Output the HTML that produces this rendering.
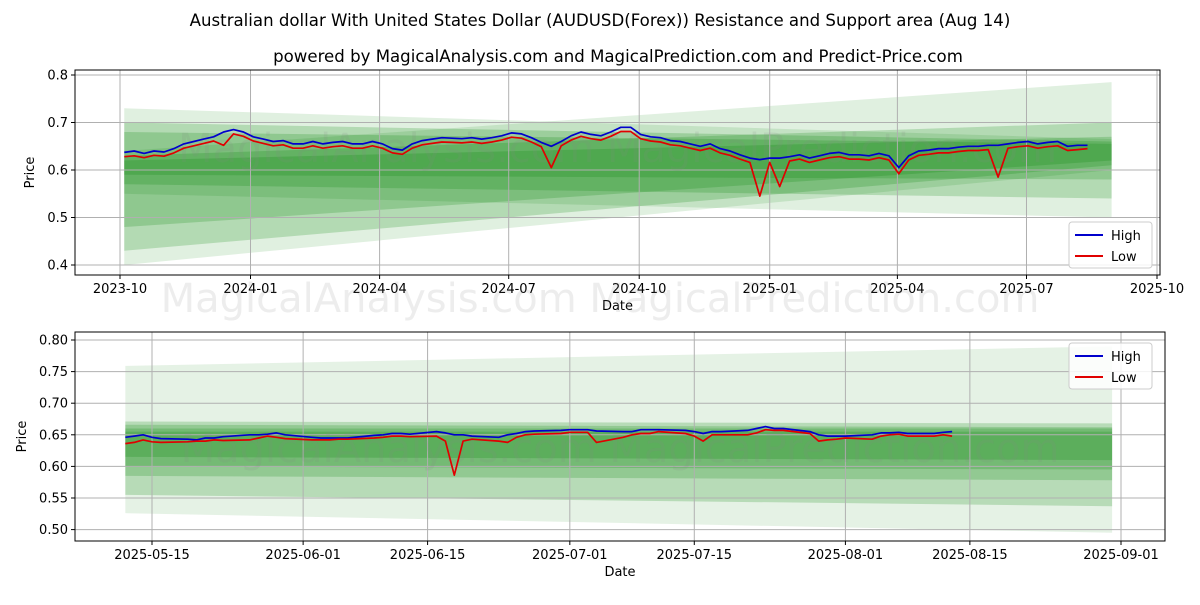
<!DOCTYPE html>
<html><head><meta charset="utf-8">
<style>
html,body{margin:0;padding:0;background:#fff;}
svg text{font-family:"DejaVu Sans","Liberation Sans",sans-serif;}
</style></head>
<body>
<svg id="chart" width="1200" height="600" viewBox="0 0 1200 600" xmlns="http://www.w3.org/2000/svg">
<text x="600" y="26" text-anchor="middle" font-size="16.6" fill="#000">Australian dollar With United States Dollar (AUDUSD(Forex)) Resistance and Support area (Aug 14)</text>
<text x="618" y="62" text-anchor="middle" font-size="16.6" fill="#000">powered by MagicalAnalysis.com and MagicalPrediction.com and Predict-Price.com</text>
<g id="top"></g>
<g id="bot"></g>
</svg>
<script>
// ---------- data: top chart ----------
const topStartDate = "2023-10-04"; // weekly samples
const topHigh = [.637,.640,.635,.640, .638,.645,.655,.660, .665,.670,.680,.685,
 .680,.670,.665,.660,.662, .655,.655,.660,.655, .658,.660,.655,.655,
 .660,.655,.645,.642,.655, .662,.665,.668,.667, .666,.668,.665,.668,
 .672,.678,.676,.668,.658, .650,.660,.672,.680, .675,.672,.680,.690,
 .690,.675,.670,.668,.662, .660,.655,.650,.655, .645,.640,.632,.625,
 .622,.625,.625,.628,.632, .625,.630,.635,.637, .632,.632,.630,.635,
 .630,.605,.630,.640,.642, .645,.645,.648,.650, .650,.652,.652,.655,
 .658,.660,.655,.658,.660, .650,.652,.652];
const topLow = [.628,.630,.626,.631, .629,.636,.646,.651, .656,.661,.652,.676,
 .671,.661,.656,.651,.653, .646,.646,.651,.646, .649,.651,.646,.646,
 .651,.646,.636,.633,.646, .653,.656,.659,.658, .657,.659,.656,.659,
 .663,.669,.667,.659,.649, .605,.651,.663,.671, .666,.663,.671,.681,
 .681,.666,.661,.659,.653, .651,.646,.641,.646, .636,.631,.623,.616,
 .545,.616,.565,.619,.623, .616,.621,.626,.628, .623,.623,.621,.626,
 .621,.592,.621,.631,.633, .636,.636,.639,.641, .641,.643,.585,.646,
 .649,.651,.646,.649,.651, .641,.643,.645];
// bands: [startLow, startHigh, endLow, endHigh]
const topBandsStartLow  = [.55,.40,.43,.57,.48,.59];
const topBandsStartHigh = [.64,.73,.70,.63,.68,.62];
const topBandsEndLow    = [.50,.60,.61,.54,.62,.58];
const topBandsEndHigh   = [.785,.665,.66,.70,.655,.67];
const bandStart="2023-10-04", bandEnd="2025-08-30";
const topYTicks=[0.4,0.5,0.6,0.7,0.8];
const topXTicks=["2023-10-01","2024-01-01","2024-04-01","2024-07-01","2024-10-01","2025-01-01","2025-04-01","2025-07-01","2025-10-01"];

// ---------- data: bottom chart ----------
const botStartDate="2025-05-12"; // business days
const botHigh=[.646,.648,.650,.646,.644, .643,.642,.645,.645,.647, .650,.650,.651,.653,.650,
 .646,.645,.645,.645,.645, .649,.650,.652,.652,.651, .655,.653,.650,.650,.648,
 .646,.650,.652,.655,.656, .657,.658,.658,.658,.656, .655,.655,.658,.658,.658,
 .657,.655,.652,.655,.655, .657,.660,.663,.660,.660, .655,.650,.648,.648,.648,
 .650,.653,.653,.654,.652, .652,.654,.655];
const botLow=[.636,.638,.642,.639,.638, .639,.640,.640,.642,.641, .642,.645,.648,.646,.644,
 .642,.642,.642,.643,.643, .645,.646,.648,.648,.647, .648,.640,.586,.640,.643,
 .640,.638,.646,.650,.651, .652,.654,.654,.654,.638, .646,.650,.652,.652,.655,
 .652,.648,.640,.650,.650, .650,.653,.658,.657,.657, .652,.640,.642,.643,.645,
 .643,.648,.650,.651,.648, .648,.650,.648];
const botBandsStartLow  = [.526,.555,.585,.600,.615];
const botBandsStartHigh = [.759,.671,.666,.660,.655];
const botBandsEndLow    = [.495,.537,.578,.595,.610];
const botBandsEndHigh   = [.790,.668,.662,.660,.655];
const botBandStart="2025-05-12", botBandEnd="2025-08-31";
const botYTicks=[0.50,0.55,0.60,0.65,0.70,0.75,0.80];
const botXTicks=["2025-05-15","2025-06-01","2025-06-15","2025-07-01","2025-07-15","2025-08-01","2025-08-15","2025-09-01"];

// ---------- helpers ----------
const NS="http://www.w3.org/2000/svg";
const day=s=>Date.parse(s+"T00:00:00Z")/86400000;
function mk(parent,tag,attrs){const e=document.createElementNS(NS,tag);for(const k in attrs)e.setAttribute(k,attrs[k]);parent.appendChild(e);return e;}
function addDays(s,n){return day(s)+n;}
function bizDays(s,n){const out=[];let d=day(s);while(out.length<n){const wd=new Date(d*86400000).getUTCDay();if(wd!==0&&wd!==6)out.push(d);d++;}return out;}

function panel(g,cfg){
  const {L,R,T,B,x,y}=cfg;
  cfg.bands.forEach((b,i)=>{
    const x0=x(cfg.bs),x1=x(cfg.be);
    const p=mk(g,"polygon",{points:`${x0},${y(b[1])} ${x1},${y(b[3])} ${x1},${y(b[2])} ${x0},${y(b[0])}`,fill:"rgb(0,128,0)","fill-opacity":cfg.alpha(i)});
    
    
  });
  cfg.yt.forEach(v=>{
    const l=mk(g,"line",{x1:L,x2:R,y1:y(v),y2:y(v),stroke:"#b0b0b0","stroke-width":1});
    
    mk(g,"line",{x1:L-4,x2:L,y1:y(v),y2:y(v),stroke:"#000"});
    const t=mk(g,"text",{x:L-7,y:y(v)+4.5,"text-anchor":"end","font-size":13});
    t.textContent=v.toFixed(cfg.yd);
    
  });
  cfg.xt.forEach(s=>{
    const xv=x(day(s));
    const l=mk(g,"line",{x1:xv,x2:xv,y1:T,y2:B,stroke:"#b0b0b0","stroke-width":1});
    
    mk(g,"line",{x1:xv,x2:xv,y1:B,y2:B+4,stroke:"#000"});
    const t=mk(g,"text",{x:xv,y:B+18,"text-anchor":"middle","font-size":13});
    t.textContent=s.slice(0,cfg.xd);
    
  });
  const w=mk(g,"text",{x:(L+R)/2,y:cfg.wy,"text-anchor":"middle","font-size":40,fill:"#888","fill-opacity":0.15});
  w.textContent="MagicalAnalysis.com    MagicalPrediction.com";
  
  [[cfg.hi,"#0000cc","high-line"],[cfg.lo,"#e00000","low-line"]].forEach(([arr,c,n])=>{
    const pts=arr.map((v,i)=>`${x(cfg.dates[i]).toFixed(1)},${y(v).toFixed(1)}`).join(" ");
    const pl=mk(g,"polyline",{points:pts,fill:"none",stroke:c,"stroke-width":1.7,"stroke-linejoin":"round"});
    
  });
  mk(g,"rect",{x:L,y:T,width:R-L,height:B-T,fill:"none",stroke:"#000","stroke-width":1});
  const yl=mk(g,"text",{x:cfg.ylx,y:(T+B)/2,"text-anchor":"middle","font-size":13,transform:`rotate(-90 ${cfg.ylx} ${(T+B)/2})`});
  yl.textContent="Price";
  const xl=mk(g,"text",{x:(L+R)/2,y:B+35,"text-anchor":"middle","font-size":13});
  xl.textContent="Date";
  const lg=mk(g,"g",{});
  
  mk(lg,"rect",{x:cfg.lx,y:cfg.ly,width:83,height:46,rx:3,fill:"#fff","fill-opacity":0.85,stroke:"#ccc"});
  [["High","#0000cc"],["Low","#e00000"]].forEach(([t,c],i)=>{
    const yy=cfg.ly+13+i*21;
    const e=mk(lg,"line",{x1:cfg.lx+6,x2:cfg.lx+34,y1:yy,y2:yy,stroke:c,"stroke-width":2});
    
    const tx=mk(lg,"text",{x:cfg.lx+42,y:yy+5,"font-size":13});
    tx.textContent=t;
  });
}

(function(){
  const L=75,R=1160,T=70,B=275;
  const x=d=>120+(d-day("2023-10-01"))*(1157-120)/(day("2025-10-01")-day("2023-10-01"));
  const y=v=>75+(0.8-v)*475;
  const dates=topHigh.map((_,i)=>addDays(topStartDate,i*7));
  const bands=topBandsStartLow.map((_,i)=>[topBandsStartLow[i],topBandsStartHigh[i],topBandsEndLow[i],topBandsEndHigh[i]]);
  panel(document.getElementById("top"),{L,R,T,B,x,y,bands,bs:day(bandStart),be:day(bandEnd),yt:topYTicks,yd:1,xt:topXTicks,xd:7,
    hi:topHigh,lo:topLow,dates,ylx:34,lx:1069,ly:222,wy:162,alpha:i=>(i<2?0.12:0.2)});
  const w2=mk(document.getElementById("top"),"text",{x:600,y:312,"text-anchor":"middle","font-size":40,fill:"#888","fill-opacity":0.15});
  w2.textContent="MagicalAnalysis.com    MagicalPrediction.com";
  
  
})();
(function(){
  const L=75,R=1165,T=332,B=541;
  const x=d=>152+(d-day("2025-05-15"))*(1121-152)/(day("2025-09-01")-day("2025-05-15"));
  const y=v=>340+(0.8-v)*632;
  const dates=bizDays(botStartDate,botHigh.length);
  const bands=botBandsStartLow.map((_,i)=>[botBandsStartLow[i],botBandsStartHigh[i],botBandsEndLow[i],botBandsEndHigh[i]]);
  panel(document.getElementById("bot"),{L,R,T,B,x,y,bands,bs:day(botBandStart),be:day(botBandEnd),yt:botYTicks,yd:2,xt:botXTicks,xd:10,
    hi:botHigh,lo:botLow,dates,ylx:26,lx:1069,ly:343,wy:462,alpha:i=>(i===0?0.1:0.2)});
})();
</script>
</body></html>
